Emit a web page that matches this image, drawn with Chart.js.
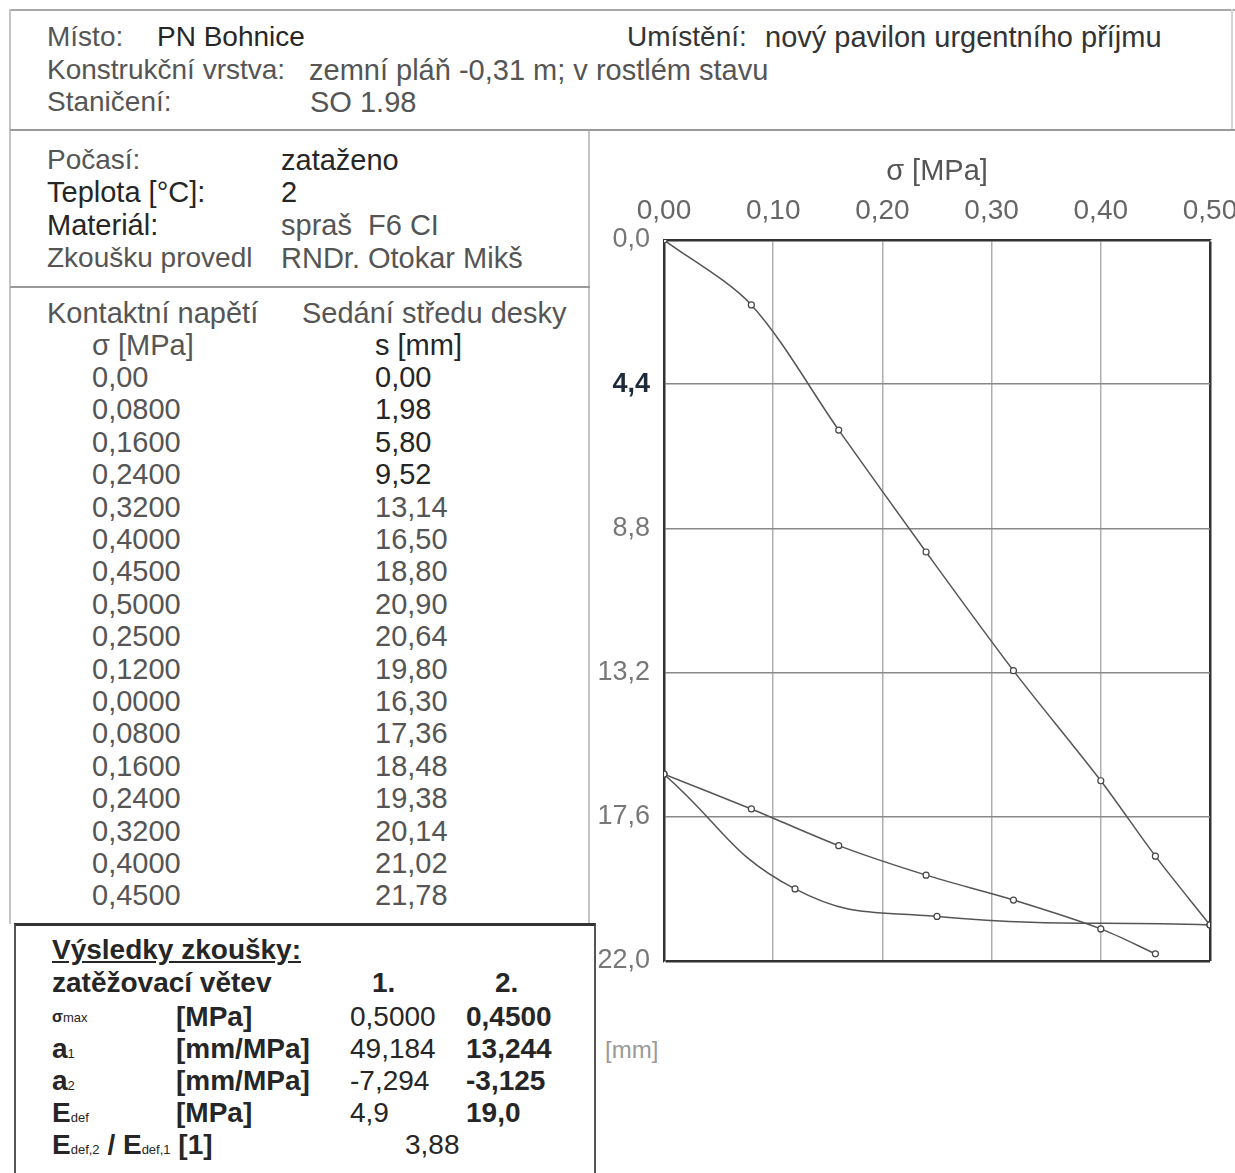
<!DOCTYPE html>
<html lang="cs">
<head>
<meta charset="utf-8">
<title>Zatěžovací zkouška deskou</title>
<script src="https://cdn.jsdelivr.net/npm/chart.js@4.4.1/dist/chart.umd.min.js"></script>
<style>
  body { margin: 0; width: 1235px; height: 1173px; background: #fff; position: relative; overflow: hidden;
         font-family: "Liberation Sans", Arial, sans-serif; color: #555; }
  .t { position: absolute; font-size: 28px; line-height: 32px; white-space: nowrap; }
  .w { font-size: 29px; }
  .d { color: #262626; }
  .b { font-weight: bold; color: #262626; }
  .ln { position: absolute; background: #a8a8a8; }
  #results { position: absolute; left: 14px; top: 923px; width: 578px; height: 260px;
             border-top: 3px solid #333; border-left: 2px solid #555; border-right: 2px solid #555; }
  #chartBox { position: absolute; left: 598px; top: 150px; }
  sub { font-size: 13px; vertical-align: baseline; font-weight: normal; }
</style>
</head>
<body>

<!-- frame lines -->
<div class="ln" style="left:10px;top:9px;width:1225px;height:2px;"></div>
<div class="ln" style="left:9px;top:9px;width:2px;height:915px;background:#c4c4c4;"></div>
<div class="ln" style="left:1231px;top:9px;width:2px;height:120px;background:#d4d4d4;"></div>
<div class="ln" style="left:10px;top:129px;width:1225px;height:2px;background:#999;"></div>
<div class="ln" style="left:588px;top:131px;width:2px;height:793px;background:#c4c4c4;"></div>
<div class="ln" style="left:10px;top:286px;width:580px;height:2px;background:#999;"></div>

<!-- header -->
<div class="t" style="left:47px;top:21px;">Místo:</div>
<div class="t d" style="left:157px;top:21px;">PN Bohnice</div>
<div class="t" style="left:627px;top:21px;color:#333;">Umístění:</div>
<div class="t w" style="left:765px;top:21px;color:#333;">nový pavilon urgentního příjmu</div>
<div class="t" style="left:47px;top:54px;">Konstrukční vrstva:</div>
<div class="t w" style="left:309px;top:54px;">zemní pláň -0,31 m; v rostlém stavu</div>
<div class="t" style="left:47px;top:86px;">Staničení:</div>
<div class="t w" style="left:310px;top:86px;">SO 1.98</div>

<div class="t" style="left:47px;top:144px;">Počasí:</div>
<div class="t d w" style="left:281px;top:144px;">zataženo</div>
<div class="t d w" style="left:47px;top:176px;">Teplota [°C]:</div>
<div class="t d w" style="left:281px;top:176px;">2</div>
<div class="t d w" style="left:47px;top:209px;">Materiál:</div>
<div class="t w" style="left:281px;top:209px;">spraš&nbsp; F6 CI</div>
<div class="t" style="left:47px;top:242px;">Zkoušku provedl</div>
<div class="t w" style="left:281px;top:242px;">RNDr. Otokar Mikš</div>

<!-- measured table -->
<div class="t w" style="left:47px;top:297px;">Kontaktní napětí</div>
<div class="t w" style="left:302px;top:297px;">Sedání středu desky</div>
<div class="t w" style="left:92px;top:329px;">σ [MPa]</div>
<div class="t d w" style="left:375px;top:329px;">s [mm]</div>
<div id="rows"></div>

<!-- results -->
<div id="results"></div>
<div class="t b" style="left:52px;top:934px;text-decoration:underline;">Výsledky zkoušky:</div>
<div class="t b" style="left:52px;top:967px;">zatěžovací větev</div>
<div class="t b" style="left:372px;top:967px;">1.</div>
<div class="t b" style="left:495px;top:967px;">2.</div>
<div class="t b" style="left:52px;top:1001px;font-size:16px;">σ<sub>max</sub></div>
<div class="t b" style="left:176px;top:1001px;">[MPa]</div>
<div class="t d" style="left:350px;top:1001px;">0,5000</div>
<div class="t b" style="left:466px;top:1001px;">0,4500</div>
<div class="t b" style="left:52px;top:1033px;">a<sub>1</sub></div>
<div class="t b" style="left:176px;top:1033px;">[mm/MPa]</div>
<div class="t d" style="left:350px;top:1033px;">49,184</div>
<div class="t b" style="left:466px;top:1033px;">13,244</div>
<div class="t b" style="left:52px;top:1065px;">a<sub>2</sub></div>
<div class="t b" style="left:176px;top:1065px;">[mm/MPa]</div>
<div class="t d" style="left:350px;top:1065px;">-7,294</div>
<div class="t b" style="left:466px;top:1065px;">-3,125</div>
<div class="t b" style="left:52px;top:1097px;">E<sub>def</sub></div>
<div class="t b" style="left:176px;top:1097px;">[MPa]</div>
<div class="t d" style="left:350px;top:1097px;">4,9</div>
<div class="t b" style="left:466px;top:1097px;">19,0</div>
<div class="t b" style="left:52px;top:1129px;">E<sub>def,2</sub> / E<sub>def,1</sub> [1]</div>
<div class="t d" style="left:405px;top:1129px;">3,88</div>

<div class="t" style="left:605px;top:1034px;font-size:24px;color:#999;">[mm]</div>

<div id="chartBox"><canvas id="chart" width="637" height="830"></canvas></div>

<script>
// 1. zatěžovací větev
const sigmaLoad1 = [0.00, 0.08, 0.16, 0.24, 0.32, 0.40, 0.45, 0.50];
const settleLoad1 = [0.00, 1.98, 5.80, 9.52, 13.14, 16.50, 18.80, 20.90];
// odlehčení
const sigmaUnload = [0.50, 0.25, 0.12, 0.00];
const settleUnload = [20.90, 20.64, 19.80, 16.30];
// 2. zatěžovací větev
const sigmaLoad2 = [0.00, 0.08, 0.16, 0.24, 0.32, 0.40, 0.45];
const settleLoad2 = [16.30, 17.36, 18.48, 19.38, 20.14, 21.02, 21.78];

const xTicks = [0.0, 0.1, 0.2, 0.3, 0.4, 0.5];
const yTicks = [0.0, 4.4, 8.8, 13.2, 17.6, 22.0];

const comma = (v, n) => v.toFixed(n).replace('.', ',');

// table of readings (load 1, unloading, load 2)
let tSigma = sigmaLoad1.concat(sigmaUnload.slice(1), sigmaLoad2.slice(1));
let tSettle = settleLoad1.concat(settleUnload.slice(1), settleLoad2.slice(1));
let html = '';
tSigma.forEach((s, i) => {
    let top = 361 + i * 32.4;
    html += '<div class="t w" style="left:92px;top:' + top + 'px;">' + comma(s, i === 0 ? 2 : 4) + '</div>';
    html += '<div class="t w' + (i < 4 ? ' d' : '') + '" style="left:375px;top:' + top + 'px;">' + comma(tSettle[i], 2) + '</div>';
});
document.getElementById('rows').innerHTML = html;

const pts = (xs, ys) => xs.map((x, i) => ({x: x, y: ys[i]}));

Chart.defaults.font.family = '"Liberation Sans", Arial, sans-serif';
Chart.defaults.color = '#666';

const lineStyle = {
    borderColor: '#555',
    borderWidth: 1.5,
    pointRadius: 3,
    pointBackgroundColor: '#fff',
    pointBorderColor: '#444',
    pointBorderWidth: 1.2,
    fill: false
};

new Chart(document.getElementById('chart'), {
    type: 'line',
    data: {
        datasets: [
            Object.assign({label: '1. větev', data: pts(sigmaLoad1, settleLoad1), tension: 0.3}, lineStyle),
            Object.assign({label: 'odlehčení', data: pts(sigmaUnload, settleUnload), tension: 0.45}, lineStyle),
            Object.assign({label: '2. větev', data: pts(sigmaLoad2, settleLoad2), tension: 0.3}, lineStyle)
        ]
    },
    options: {
        responsive: false,
        animation: false,
        layout: { padding: { top: 0, right: 25, bottom: 19, left: 0 } },
        plugins: { legend: { display: false }, tooltip: { enabled: false } },
        scales: {
            x: {
                type: 'linear',
                position: 'top',
                min: 0, max: 0.5,
                afterBuildTicks: axis => { axis.ticks = xTicks.map(v => ({value: v})); },
                // last label may run off the edge, as on the scanned sheet
                afterFit: axis => { axis.height = 90; axis.paddingRight = 0; axis.paddingLeft = 0; },
                ticks: { font: { size: 28 }, padding: 12, color: '#666',
                         callback: v => comma(v, 2) },
                grid: {
                    tickLength: 0,
                    color: c => c.tick && c.tick.value === 0.5 ? '#333' : '#b0b0b0',
                    lineWidth: c => c.tick && c.tick.value === 0.5 ? 2.5 : 1.5
                },
                border: { color: '#333', width: 2.5 },
                title: { display: true, text: 'σ [MPa]', font: { size: 29 }, color: '#555',
                         padding: { top: 5, bottom: 0 } }
            },
            y: {
                type: 'linear',
                reverse: true,
                min: 0, max: 22,
                afterBuildTicks: axis => { axis.ticks = yTicks.map(v => ({value: v})); },
                afterFit: axis => { axis.width = 66; axis.paddingTop = 0; axis.paddingBottom = 0; },
                ticks: { font: c => ({ size: 27, weight: c.tick && c.tick.value === 4.4 ? 'bold' : 'normal' }),
                         padding: 14,
                         color: c => c.tick && c.tick.value === 4.4 ? '#1d2b3a' : '#777',
                         callback: v => comma(v, 1) },
                grid: {
                    tickLength: 0,
                    color: c => c.tick && c.tick.value === 22 ? '#333' : '#888',
                    lineWidth: c => c.tick && c.tick.value === 22 ? 2.5 : 1.5
                },
                border: { color: '#333', width: 2.5 }
            }
        }
    }
});
</script>
</body>
</html>
